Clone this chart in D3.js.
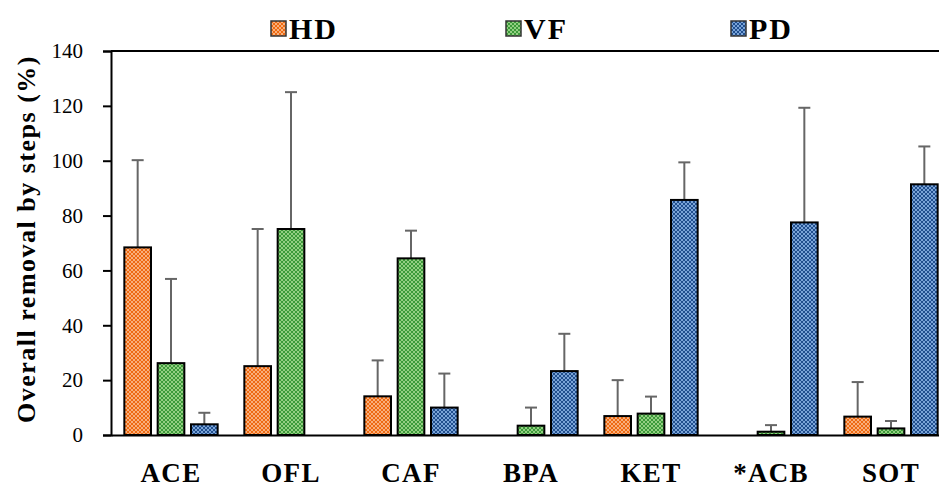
<!DOCTYPE html>
<html>
<head>
<meta charset="utf-8">
<script src="https://cdn.jsdelivr.net/npm/d3@7"></script>
<style>
  body { margin: 0; background: #fff; }
  svg { display: block; }
  svg text { font-family: "Liberation Serif", "Times New Roman", serif; }
</style>
</head>
<body>
<div id="graf"></div>
<script>
const compuestos = ['ACE', 'OFL', 'CAF', 'BPA', 'KET', '*ACB', 'SOT']
const series = ['HD', 'VF', 'PD']
const valoresHD = [68.4, 25.1, 14.1, 0, 6.9, 0, 6.7]
const valoresVF = [26.2, 75.1, 64.4, 3.4, 7.8, 1.2, 2.4]
const valoresPD = [3.9, 0, 10.0, 23.3, 85.7, 77.5, 91.4]
const errorHD = [31.8, 50.0, 13.1, 0, 13.1, 0, 12.6]
const errorVF = [30.7, 49.9, 10.1, 6.6, 6.2, 2.4, 2.7]
const errorPD = [4.2, 0, 12.4, 13.6, 13.7, 41.8, 13.8]
const ticksY = [0, 20, 40, 60, 80, 100, 120, 140]

const anchoTotal = 939
const altoTotal = 489

const margin = { top: 51, left: 111 }
const alto = 384
const ancho = 840

const svg = d3.select('#graf')
  .append('svg')
  .attr('width', anchoTotal)
  .attr('height', altoTotal)

// patrones de cuadritos
const colores = {
  HD: ['#f9b07c', '#ee6a12'],
  VF: ['#93cf82', '#3c9a3a'],
  PD: ['#7aa4d8', '#214f8e'],
}
const defs = svg.append('defs')
series.forEach(s => {
  const p = defs.append('pattern')
    .attr('id', `pat-${s}`)
    .attr('patternUnits', 'userSpaceOnUse')
    .attr('width', 4)
    .attr('height', 4)
  p.append('rect').attr('width', 4).attr('height', 4).attr('fill', colores[s][0])
  p.append('rect').attr('width', 2).attr('height', 2).attr('fill', colores[s][1])
  p.append('rect').attr('x', 2).attr('y', 2).attr('width', 2).attr('height', 2).attr('fill', colores[s][1])
})

const data = compuestos.map((c, i) => ({
  nombre: c,
  HD: { v: valoresHD[i], e: errorHD[i] },
  VF: { v: valoresVF[i], e: errorVF[i] },
  PD: { v: valoresPD[i], e: errorPD[i] },
}))

const g = svg.append('g')
  .attr('transform', `translate(${margin.left}, ${margin.top})`)

const y = d3.scaleLinear().domain([0, 140]).range([alto, 0])
const x = d3.scaleBand().domain(compuestos).range([0, ancho])
const x1 = d3.scaleBand().domain(series)
  .range([10, x.bandwidth() - 10])
  .paddingInner(0.2)
  .paddingOuter(0.1)

// marco superior
g.append('line')
  .attr('x1', 0).attr('x2', ancho)
  .attr('y1', 0).attr('y2', 0)
  .attr('stroke', '#000').attr('stroke-width', 2)

// eje y
const yAxisGroup = g.append('g')
  .call(d3.axisLeft(y).tickValues(ticksY).tickSize(8).tickPadding(20))
yAxisGroup.select('.domain').attr('stroke-width', 2)
yAxisGroup.selectAll('.tick line').attr('stroke-width', 2)
yAxisGroup.selectAll('text')
  .attr('font-size', 21)
  .attr('fill', '#000')

// eje x
const xAxisGroup = g.append('g')
  .attr('transform', `translate(0, ${alto})`)
  .call(d3.axisBottom(x).tickSize(0).tickPadding(28))
xAxisGroup.select('.domain').attr('stroke-width', 2)
xAxisGroup.selectAll('text')
  .attr('font-weight', 'bold')
  .attr('font-size', 27)
  .attr('letter-spacing', 1.3)
  .attr('fill', '#000')
g.selectAll('g').attr('font-family', null)

// barras
const grupos = g.selectAll('.grupo')
  .data(data)
  .enter()
  .append('g')
  .attr('class', 'grupo')
  .attr('transform', d => `translate(${x(d.nombre)}, 0)`)

const items = grupos.selectAll('.item')
  .data(d => series.map(s => ({ serie: s, v: d[s].v, e: d[s].e })).filter(o => o.v > 0))
  .enter()
  .append('g')
  .attr('class', 'item')

// barras de error
items.append('line')
  .attr('x1', d => x1(d.serie) + x1.bandwidth() / 2)
  .attr('x2', d => x1(d.serie) + x1.bandwidth() / 2)
  .attr('y1', d => y(d.v))
  .attr('y2', d => y(d.v + d.e))
  .attr('stroke', '#666')
  .attr('stroke-width', 2)
items.append('line')
  .attr('x1', d => x1(d.serie) + x1.bandwidth() / 2 - 6)
  .attr('x2', d => x1(d.serie) + x1.bandwidth() / 2 + 6)
  .attr('y1', d => y(d.v + d.e))
  .attr('y2', d => y(d.v + d.e))
  .attr('stroke', '#666')
  .attr('stroke-width', 2)

items.append('rect')
  .attr('x', d => x1(d.serie))
  .attr('width', x1.bandwidth())
  .attr('y', d => y(d.v))
  .attr('height', d => alto - y(d.v))
  .attr('fill', d => `url(#pat-${d.serie})`)
  .attr('stroke', '#000')
  .attr('stroke-width', 2)

// titulo eje y
svg.append('text')
  .attr('transform', `translate(35, 239) rotate(-90)`)
  .attr('text-anchor', 'middle')
  .attr('font-weight', 'bold')
  .attr('font-size', 26)
  .attr('letter-spacing', 1.5)
  .text('Overall removal by steps (%)')

// leyenda
const leyendaX = [271, 506, 731]
const leyenda = svg.selectAll('.leyenda')
  .data(series)
  .enter()
  .append('g')
  .attr('class', 'leyenda')
  .attr('transform', (d, i) => `translate(${leyendaX[i]}, 21)`)
leyenda.append('rect')
  .attr('width', 15).attr('height', 15)
  .attr('fill', d => `url(#pat-${d})`)
  .attr('stroke', '#333').attr('stroke-width', 1.5)
leyenda.append('text')
  .attr('x', 18).attr('y', 17.5)
  .attr('font-weight', 'bold')
  .attr('font-size', 30)
  .attr('letter-spacing', 2)
  .text(d => d)
</script>
</body>
</html>
